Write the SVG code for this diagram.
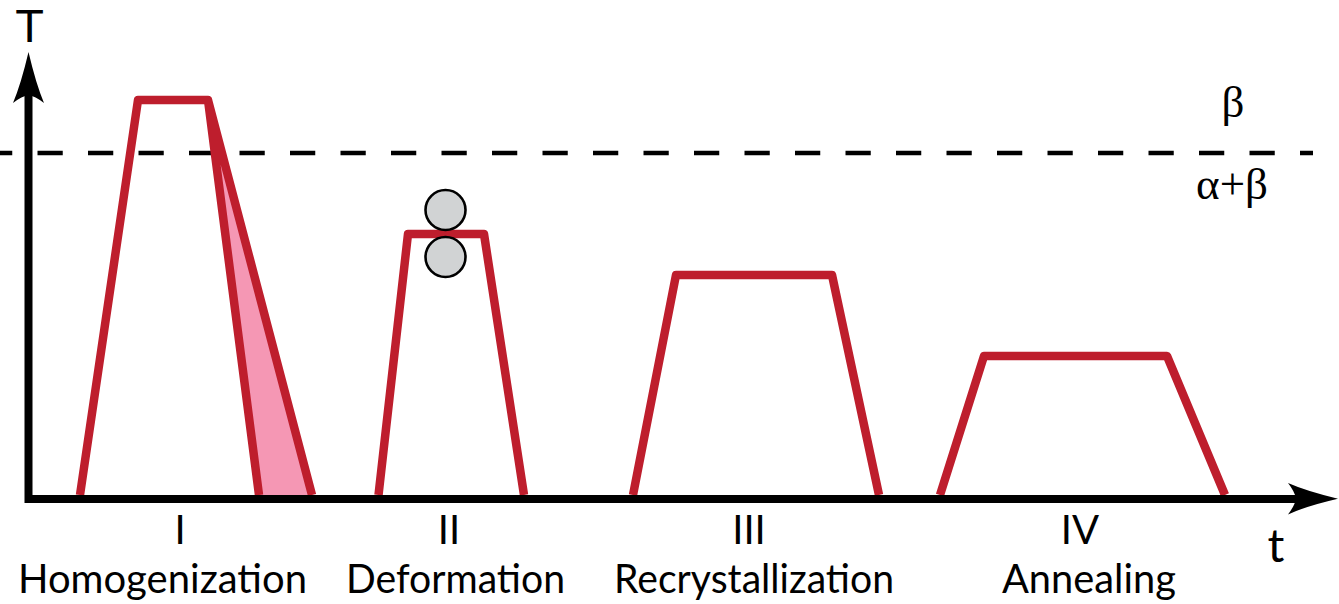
<svg xmlns="http://www.w3.org/2000/svg" width="1339" height="604" viewBox="0 0 1339 604">
<style>
.curve{fill:none;stroke:#be1e2d;stroke-width:8.500;stroke-linejoin:round}
.axis{fill:none;stroke:#000;stroke-width:8}
.head{fill:#000}
.roll{fill:#d1d3d4;stroke:#000;stroke-width:2.600}
.lab{font-family:Lato,"Open Sans",sans-serif;font-size:40px;fill:#000;text-anchor:middle}
.axl{font-family:"Liberation Sans",Arial,sans-serif;font-size:47px;fill:#000;text-anchor:middle}
.sym{font-family:"Liberation Serif",serif;font-size:45px;fill:#000;text-anchor:middle}
</style>
<rect width="1339" height="604" fill="#fff"/>
<g id="boundary">
<line x1="1313" y1="153" x2="0" y2="153" stroke="#000" stroke-width="4.500" stroke-dasharray="25.25" stroke-dashoffset="12.25"/>
</g>
<g id="stage-1">
<polygon points="208,100 259,495 312,495" fill="#f597b4"/>
<path class="curve" d="M80,495L138,100H208L259,495M208,100L312,495"/>
<text class="lab" x="180" y="544">I</text>
<text class="lab" x="162.500" y="593" textLength="289" lengthAdjust="spacingAndGlyphs">Homogenization</text>
</g>
<g id="stage-2">
<path class="curve" d="M378.500,495L408,234H484L524,495"/>
<circle class="roll" cx="445.500" cy="210" r="20"/>
<circle class="roll" cx="445.500" cy="257" r="20"/>
<text class="lab" x="449" y="544">II</text>
<text class="lab" x="455.500" y="593" textLength="219" lengthAdjust="spacingAndGlyphs">Deformation</text>
</g>
<g id="stage-3">
<path class="curve" d="M633,495L676,275H832L879,495"/>
<text class="lab" x="749" y="544">III</text>
<text class="lab" x="754" y="593" textLength="280" lengthAdjust="spacingAndGlyphs">Recrystallization</text>
</g>
<g id="stage-4">
<path class="curve" d="M940,495L984,356H1167L1225,495"/>
<text class="lab" x="1080" y="544">IV</text>
<text class="lab" x="1089" y="593" textLength="174" lengthAdjust="spacingAndGlyphs">Annealing</text>
</g>
<g id="connectors">
<path class="axis" d="M28.500,90V499H1305"/>
<path class="head" d="M28.500,52Q36,84 44,103Q35,96 28.500,95Q22,96 13,103Q21,84 28.500,52Z"/>
<path class="head" d="M1338,498.700Q1306,506 1288,514.500Q1295,505 1296,498.700Q1295,492 1288,483Q1306,491 1338,498.700Z"/>
</g>
<g id="labels">
<text class="axl" x="29.500" y="42">T</text>
<text class="lab" style="font-size:47px" x="1276" y="562">t</text>
<text class="sym" x="1233" y="117">β</text>
<text class="sym" x="1232" y="199">α+β</text>
</g>
</svg>
